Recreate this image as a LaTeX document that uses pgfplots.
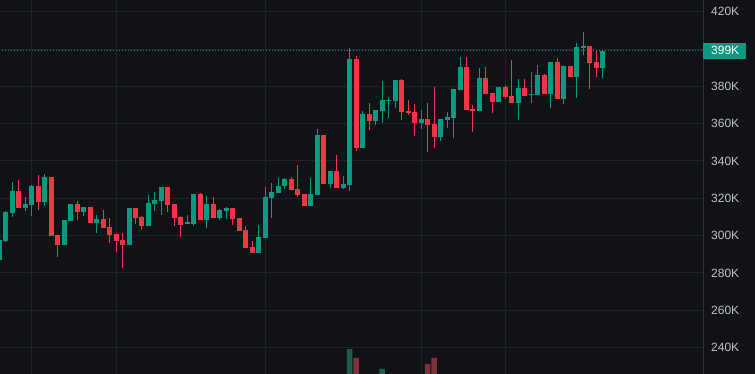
\documentclass[border=0pt]{standalone}
\usepackage{pgfplots}
\pgfplotsset{compat=1.18}
\usepackage{pgfplotstable}
\usepackage{fontspec}
\setmainfont{Liberation Sans}
\definecolor{bgcol}{RGB}{17,18,23}
\definecolor{gridcol}{RGB}{32,34,41}
\definecolor{sepcol}{RGB}{44,47,56}
\definecolor{cgreen}{RGB}{8,153,129}
\definecolor{cred}{RGB}{242,54,69}
\definecolor{vgreen}{RGB}{31,92,80}
\definecolor{vred}{RGB}{128,50,60}
\definecolor{labcol}{RGB}{190,193,200}

\pgfplotstableread{
i o h l c
-1 286.8 298.0 286.0 297.5
0 297.1 313.3 296.8 312.8
1 312.3 328.9 310.1 323.9
3 315.0 320.7 313.4 316.9
4 316.4 327.0 310.7 326.6
6 318.2 333.0 316.0 331.4
9 295.0 308.6 294.8 308.4
10 308.0 317.1 307.8 316.9
12 312.8 315.5 310.7 315.3
14 306.9 311.0 301.6 308.9
19 295.0 315.0 294.8 314.8
22 305.2 321.8 305.0 317.7
23 317.0 323.4 313.2 319.1
24 318.6 326.2 311.0 326.0
28 306.6 311.0 306.4 307.0
29 306.3 322.5 305.3 322.3
31 308.4 321.2 304.3 316.9
33 309.6 314.3 308.4 313.7
34 313.2 315.3 308.9 314.8
39 290.6 305.7 290.4 299.2
40 298.7 326.0 298.5 320.7
41 320.2 328.2 309.4 323.4
42 322.8 330.9 322.6 326.6
43 326.6 330.9 325.0 330.3
47 315.9 330.9 315.7 322.3
48 321.8 357.1 321.6 353.9
50 327.6 334.8 325.5 334.6
52 325.5 332.0 325.0 327.6
53 327.1 400.5 323.9 394.6
55 347.0 366.8 346.8 365.2
57 361.4 367.5 359.3 367.3
58 366.8 382.9 360.4 372.6
59 372.3 374.3 363.0 372.8
60 372.1 383.6 368.4 383.4
64 360.4 367.3 357.1 362.5
67 352.9 362.7 350.7 362.5
68 362.0 366.2 357.7 363.6
69 363.0 378.7 352.3 378.5
70 378.0 395.7 377.8 390.3
73 366.8 389.8 366.6 384.4
76 371.6 379.8 371.4 379.6
79 371.1 383.9 362.0 379.1
81 375.6 387.7 371.1 376.1
82 375.4 391.4 375.2 386.0
84 375.9 393.2 368.4 393.0
86 373.2 391.1 370.5 390.9
88 385.0 403.2 373.8 401.1
89 400.5 409.1 396.8 401.6
92 389.8 399.4 384.4 399.2
}\greentbl

\pgfplotstableread{
i o h l c
2 323.9 329.8 314.8 315.0
5 326.6 332.5 313.7 318.2
7 331.4 331.6 299.8 300.0
8 300.3 300.5 288.7 295.0
11 316.9 318.7 308.4 312.8
13 315.3 315.5 306.7 306.9
15 308.9 313.7 304.0 304.2
16 304.7 309.6 296.2 300.3
17 300.8 301.0 291.4 297.1
18 297.6 301.2 282.8 295.0
20 314.8 315.0 306.4 309.6
21 310.0 310.7 303.0 305.2
25 326.0 326.2 312.8 316.4
26 316.9 317.1 305.2 309.6
27 310.0 310.7 299.4 305.7
30 322.3 322.8 308.2 308.4
32 316.9 320.7 309.4 309.6
35 314.8 315.0 305.7 308.9
36 309.4 309.6 302.3 302.5
37 303.0 305.2 293.1 293.3
38 293.8 297.1 290.4 290.6
44 330.3 331.4 324.2 324.4
45 325.0 337.8 320.7 321.8
46 322.3 322.5 315.7 315.9
49 353.9 354.1 327.4 327.6
51 334.6 343.2 325.3 325.5
54 394.6 396.3 345.4 347.0
56 365.2 371.1 356.6 361.4
61 383.4 383.9 362.0 366.2
62 366.8 372.6 364.6 365.7
63 366.2 370.5 353.4 360.4
65 362.5 371.1 344.8 359.3
66 359.8 379.6 347.0 352.9
71 390.3 395.7 367.1 367.3
72 367.8 370.0 355.7 366.8
74 384.4 390.3 375.7 375.9
75 376.4 376.6 365.7 371.6
77 379.6 380.7 373.2 374.3
78 374.8 394.1 370.9 371.1
80 379.1 383.9 374.6 374.8
83 386.0 386.6 375.7 375.9
85 393.0 395.2 373.0 373.2
87 390.9 391.1 384.8 385.0
90 401.6 401.8 378.5 392.5
91 393.0 398.9 385.0 389.8
}\redtbl

\begin{document}
\begin{tikzpicture}
\fill[bgcol] (0,0) rectangle (755pt,374pt);
\begin{axis}[
  scale only axis, width=703pt, height=374pt,
  xmin=-0.878, xmax=107.44, ymin=225.8, ymax=426.3,
  separate axis lines, axis x line*=bottom, axis y line*=right,
  x axis line style={draw=none},
  y axis line style={draw=sepcol, line width=1pt, -},
  xtick={4,17,40,64,77}, xticklabels={},
  ytick={240,260,280,300,320,340,360,380,400,420},
  yticklabels={240K,260K,280K,300K,320K,340K,360K,380K,{},420K},
  yticklabel style={anchor=west, inner sep=0pt, xshift=8pt, text=labcol, font=\fontsize{12}{14}\selectfont},
  major tick length=0pt, tick style={draw=none},
  xmajorgrids, ymajorgrids,
  grid style={draw=gridcol, line width=1pt},
  candle/.style={draw=none, mark=none, error bars/.cd, y dir=both, y explicit, error mark=none},
]
% volume bars (tops visible only)
\addplot[ybar, bar width=5.5pt, bar shift=0pt, fill=vgreen, draw=none] coordinates {(53,239.2) (58,228.5)};
\addplot[ybar, bar width=5.5pt, bar shift=0pt, fill=vred, draw=none] coordinates {(54,234.4) (65,231.2) (66,234.4)};
% last price line
\addplot[cgreen, line width=1pt, dash pattern=on 1.2pt off 1.8pt] coordinates {(-1,399.1) (108,399.1)};
% wicks
\addplot[candle, error bar style={draw=cgreen, line width=1pt}]
  table[x=i, y expr={(\thisrow{h}+\thisrow{l})/2}, y error expr={(\thisrow{h}-\thisrow{l})/2}] {\greentbl};
\addplot[candle, error bar style={draw=cred, line width=1pt}]
  table[x=i, y expr={(\thisrow{h}+\thisrow{l})/2}, y error expr={(\thisrow{h}-\thisrow{l})/2}] {\redtbl};
% bodies
\addplot[candle, error bar style={draw=cgreen, line width=5pt}]
  table[x=i, y expr={(\thisrow{o}+\thisrow{c})/2}, y error expr={max(abs(\thisrow{c}-\thisrow{o})/2,0.3)}] {\greentbl};
\addplot[candle, error bar style={draw=cred, line width=5pt}]
  table[x=i, y expr={(\thisrow{o}+\thisrow{c})/2}, y error expr={max(abs(\thisrow{c}-\thisrow{o})/2,0.3)}] {\redtbl};
\coordinate (pl) at (axis cs:107.44,399.1);
\end{axis}
\node[fill=cgreen, anchor=west, inner sep=0pt, minimum height=16.4pt, minimum width=42.7pt,
  text=white, font=\fontsize{12}{14}\selectfont] at (pl) {\makebox[42.7pt][l]{\hspace{8pt}399K}};
\pgfresetboundingbox
\useasboundingbox (0,0) rectangle (755pt,374pt);
\end{tikzpicture}
\end{document}
